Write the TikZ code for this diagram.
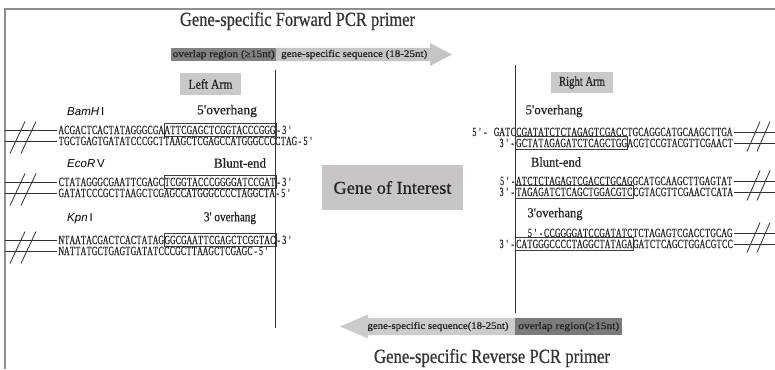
\documentclass[tikz,border=0pt]{standalone}
\usepackage{fontspec}
\setmainfont{Liberation Serif}
\newfontfamily\labsans{Liberation Sans}
\newfontfamily\heavy[FakeBold=0.6]{Liberation Serif}
\usepackage{graphicx}
\definecolor{txt}{HTML}{222222}
\definecolor{titc}{HTML}{333333}
\definecolor{boxc}{HTML}{3C3C3C}
\definecolor{linec}{HTML}{2E2E2E}
\definecolor{armc}{HTML}{333333}
\definecolor{framec}{HTML}{8F8F8F}
\definecolor{armfill}{HTML}{C9C9C9}
\definecolor{genec}{HTML}{C9C5C5}
\definecolor{arrdark}{HTML}{828282}
\definecolor{arrlight}{HTML}{C5C5C5}
\definecolor{arrdarkb}{HTML}{7E7A7A}
\definecolor{arrlightb}{HTML}{CCCCCC}
\newlength\cw
\setlength\cw{5.55pt}
\makeatletter
\def\sq#1{\sq@loop#1\relax}
\def\sq@loop#1{\ifx#1\relax\else\makebox[\cw]{\scalebox{0.62}[1]{#1}}\expandafter\sq@loop\fi}
\makeatother
\newcommand\fitw[2]{\resizebox{#1}{\height}{#2}}
\begin{document}
\begin{tikzpicture}[x=1pt,y=-1pt,
  seq/.style={inner sep=0pt, outer sep=0pt, text height=8pt, text depth=0pt, font=\heavy\fontsize{12.5}{12.5}\selectfont, text=txt},
  segbox/.style={seq, draw=boxc, line width=0.7pt, inner xsep=0.5pt, inner ysep=2.6pt},
  enz/.style={inner sep=0pt, anchor=west, font=\labsans\fontsize{11.5}{11.5}\selectfont, text=black},
  lab/.style={inner sep=0pt, font=\heavy\fontsize{13.5}{13.5}\selectfont, text=txt},
  strand/.style={draw=linec, line width=0.8pt},
  armline/.style={draw=armc, line width=0.9pt},
  framel/.style={draw=framec, line width=1.2pt},
  armbox/.style={fill=armfill, minimum width=61pt, minimum height=22pt, inner sep=0pt, font=\heavy\fontsize{13.5}{13.5}\selectfont, text=txt},
  ttl/.style={inner sep=0pt, font=\heavy\fontsize{20}{20}\selectfont, text=titc},
  arrtxt/.style={inner sep=0pt, font=\heavy\fontsize{10}{10}\selectfont, text=txt}]
\useasboundingbox (0,0) rectangle (775,369);
\fill[white] (0,0) rectangle (775,369);
% frame
\coordinate (fa) at (5,369); \coordinate (fb) at (5,9); \coordinate (fc) at (775,9);
\draw[framel] (fa) -- (fb) -- (fc);
% titles
\node[ttl] (ftitle) at (297.5,21) {\fitw{235pt}{Gene-specific Forward PCR primer}};
\node[ttl] (rtitle) at (492,358) {\fitw{236pt}{Gene-specific Reverse PCR primer}};
% forward arrow
\fill[arrlight] (276,48) -- (430,48) -- (430,43) -- (452,54.5) -- (430,66) -- (430,61) -- (276,61) -- cycle;
\node[fill=arrdark, anchor=north west, minimum width=105pt, minimum height=13pt, inner sep=0pt, arrtxt] (fov) at (171,48) {\fitw{102pt}{overlap region (≥15nt)}};
\node[arrtxt, anchor=west] (fgs) at (281,54.5) {\fitw{146pt}{gene-specific sequence (18-25nt)}};
% reverse arrow
\fill[arrlightb] (515,318) -- (368,318) -- (368,314.5) -- (340,326.5) -- (368,338.5) -- (368,335) -- (515,335) -- cycle;
\node[fill=arrdarkb, anchor=north west, minimum width=107pt, minimum height=17pt, inner sep=0pt, arrtxt] (rov) at (515,318) {\fitw{101pt}{overlap region(≥15nt)}};
\node[arrtxt] (rgs) at (438,326.5) {\fitw{141pt}{gene-specific sequence(18-25nt)}};
% arm lines
\coordinate (lt) at (275,70); \coordinate (lbt) at (275,328);
\coordinate (rt) at (515,65); \coordinate (rbt) at (515,313);
\draw[armline] (lt) -- (lbt);
\draw[armline] (rt) -- (rbt);
% boxes
\node[armbox] (larm) at (210.5,84) {\fitw{44pt}{Left Arm}};
\node[armbox, minimum width=62pt, minimum height=21pt] (rarm) at (582,82.5) {\fitw{46pt}{Right Arm}};
\node[fill=genec, minimum width=141pt, minimum height=45pt, inner sep=0pt, font=\heavy\fontsize{18}{18}\selectfont, text=txt] (goi) at (392.5,187.5) {\fitw{118pt}{Gene of Interest}};
% left labels
\node[enz] (bam) at (67,112) {\textit{BamH}\,I};
\node[enz] (eco) at (67,164) {\textit{EcoR}\,V};
\node[enz] (kpn) at (67,219) {\textit{Kpn}\,I};
\node[lab] (ov5l) at (227,111) {\fitw{60pt}{5'overhang}};
\node[lab] (bluntl) at (240,163) {\fitw{52pt}{Blunt-end}};
\node[lab] (ov3l) at (230,218) {\fitw{52pt}{3' overhang}};
% right labels
\node[lab] (ov5r) at (554,111) {\fitw{57pt}{5'overhang}};
\node[lab] (bluntr) at (556,162) {\fitw{50pt}{Blunt-end}};
\node[lab] (ov3r) at (555,214) {\fitw{55pt}{3'overhang}};
% left L1
\node[seq, anchor=west] (l1p) at (58.5,130) {\sq{ACGACTCACTATAGGGCGA}};
\node[segbox, anchor=west] (l1b) at (l1p.east) {\sq{ATTCGAGCTCGGTACCCGGG}};
\node[seq, anchor=west] (l1s) at (l1b.east) {\sq{-3'}};
\node[seq, anchor=west] (l1c) at (58.5,141) {\sq{TGCTGAGTGATATCCCGCTTAAGCTCGAGCCATGGGCCCCTAG-5'}};
% left L2
\node[seq, anchor=west] (l2p) at (58.5,182) {\sq{CTATAGGGCGAATTCGAGC}};
\node[segbox, anchor=west] (l2b) at (l2p.east) {\sq{TCGGTACCCGGGGATCCGAT}};
\node[seq, anchor=west] (l2s) at (l2b.east) {\sq{-3'}};
\node[seq, anchor=west] (l2c) at (58.5,193) {\sq{GATATCCCGCTTAAGCTCGAGCCATGGGCCCCTAGGCTA-5'}};
% left L3
\node[seq, anchor=west] (l3p) at (58.5,240) {\sq{NTAATACGACTCACTATAG}};
\node[segbox, anchor=west] (l3b) at (l3p.east) {\sq{GGCGAATTCGAGCTCGGTAC}};
\node[seq, anchor=west] (l3s) at (l3b.east) {\sq{-3'}};
\node[seq, anchor=west] (l3c) at (58.5,251) {\sq{NATTATGCTGAGTGATATCCCGCTTAAGCTCGAGC-5'}};
% left strand ends
\coordinate (e1a) at (5,130); \coordinate (e1b) at (5,141);
\coordinate (e2a) at (5,182); \coordinate (e2b) at (5,193);
\coordinate (e3a) at (5,240); \coordinate (e3b) at (5,251);
\draw[strand] (e1a) -- ([xshift=-1.5pt]l1p.west);
\draw[strand] (e1b) -- ([xshift=-1.5pt]l1c.west);
\draw[strand] (e2a) -- ([xshift=-1.5pt]l2p.west);
\draw[strand] (e2b) -- ([xshift=-1.5pt]l2c.west);
\draw[strand] (e3a) -- ([xshift=-1.5pt]l3p.west);
\draw[strand] (e3b) -- ([xshift=-1.5pt]l3c.west);
\draw[strand] (10,153.5) -- (25,121.5); \draw[strand] (21,153.5) -- (36,121.5);
\draw[strand] (10,205.5) -- (25,173.5); \draw[strand] (21,205.5) -- (36,173.5);
\draw[strand] (10,263.5) -- (25,231.5); \draw[strand] (21,263.5) -- (36,231.5);
% right R1
\node[seq, anchor=west] (r1t) at (516,132) {\sq{CGATATCTCTAGAGTCGACCTGCAGGCATGCAAGCTTGA}};
\node[seq, anchor=east] (r1tp) at (r1t.west) {\sq{5'-~GATC}};
\node[segbox, anchor=west] (r1b) at (515.5,143) {\sq{GCTATAGAGATCTCAGCTGG}};
\node[seq, anchor=west] (r1bs) at (r1b.east) {\sq{ACGTCCGTACGTTCGAACT}};
\node[seq, anchor=east] (r1bp) at (r1b.west) {\sq{3'-}};
% right R2
\node[seq, anchor=west] (r2t) at (516,181) {\sq{ATCTCTAGAGTCGACCTGCAGGCATGCAAGCTTGAGTAT}};
\node[seq, anchor=east] (r2tp) at (r2t.west) {\sq{5'-}};
\node[segbox, anchor=west] (r2b) at (515.5,192) {\sq{TAGAGATCTCAGCTGGACGTC}};
\node[seq, anchor=west] (r2bs) at (r2b.east) {\sq{CGTACGTTCGAACTCATA}};
\node[seq, anchor=east] (r2bp) at (r2b.west) {\sq{3'-}};
% right R3
\node[seq, anchor=east] (r3t) at (732.5,233) {\sq{5'-CCGGGGATCCGATATCTCTAGAGTCGACCTGCAG}};
\node[segbox, anchor=west] (r3b) at (515.5,244) {\sq{CATGGGCCCCTAGGCTATAGA}};
\node[seq, anchor=west] (r3bs) at (r3b.east) {\sq{GATCTCAGCTGGACGTCC}};
\node[seq, anchor=east] (r3bp) at (r3b.west) {\sq{3'-}};
% right strand ends
\coordinate (g1a) at (775,132); \coordinate (g1b) at (775,143);
\coordinate (g2a) at (775,181); \coordinate (g2b) at (775,192);
\coordinate (g3a) at (775,233); \coordinate (g3b) at (775,244);
\draw[strand] ([xshift=1.5pt]r1t.east) -- (g1a);
\draw[strand] ([xshift=1.5pt]r1bs.east) -- (g1b);
\draw[strand] ([xshift=1.5pt]r2t.east) -- (g2a);
\draw[strand] ([xshift=1.5pt]r2bs.east) -- (g2b);
\draw[strand] ([xshift=1.5pt]r3t.east) -- (g3a);
\draw[strand] ([xshift=1.5pt]r3bs.east) -- (g3b);
\draw[strand] (747,151.5) -- (760,121.5); \draw[strand] (757,151.5) -- (770,121.5);
\draw[strand] (747,200.5) -- (760,170.5); \draw[strand] (757,200.5) -- (770,170.5);
\draw[strand] (747,252.5) -- (760,222.5); \draw[strand] (757,252.5) -- (770,222.5);
\end{tikzpicture}
\end{document}
